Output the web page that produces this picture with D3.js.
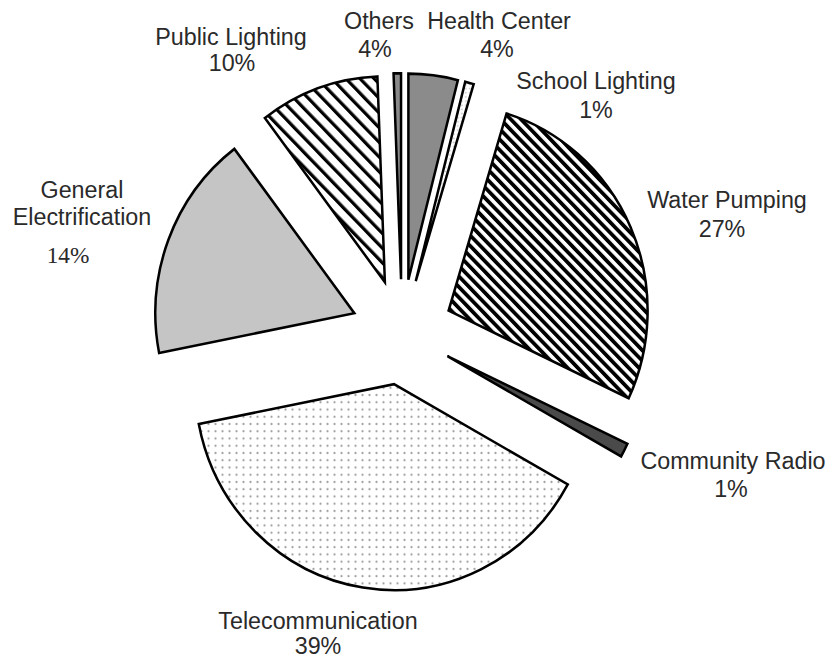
<!DOCTYPE html>
<html><head><meta charset="utf-8">
<script src="https://cdn.jsdelivr.net/npm/d3@7"></script>
<style>body{margin:0;background:#fff}</style>
</head><body>
<svg id="chart" width="827" height="658"></svg>
<script>
// ---- data ----
const categories = ["Health Center","School Lighting","Water Pumping","Community Radio","Telecommunication","General Electrification","Public Lighting","Others"];
// slice sizes as drawn in the picture (share of the circle, %)
const sliceShares = [4.0, 0.7, 27.3, 1.1, 38.8, 17.8, 9.7, 0.6];
// percentages as printed on the labels
const labelPercents = ["4%","1%","27%","1%","39%","14%","10%","4%"];

// ---- layout / style ----
const W = 827, H = 658;
const cx = 402, cy = 332, R = 199, explode = 51, yStretch = 1.035;
const fills = {
  "Health Center": "#8b8b8b",
  "School Lighting": "url(#pSL)",
  "Water Pumping": "url(#pWP)",
  "Community Radio": "#4a4a4a",
  "Telecommunication": "url(#pTel)",
  "General Electrification": "#c5c5c5",
  "Public Lighting": "url(#pPL)",
  "Others": "#8a8a8a"
};
const labelLayout = {
  "Health Center": {x:499, ys:[29], px:497, py:57},
  "School Lighting": {x:596, ys:[89], px:596, py:118},
  "Water Pumping": {x:727, ys:[208], px:722, py:237},
  "Community Radio": {x:733, ys:[469], px:731, py:497},
  "Telecommunication": {x:318, ys:[629], px:318, py:654},
  "General Electrification": {x:82, ys:[198,225], lines:["General","Electrification"], px:68, py:263, serif:true},
  "Public Lighting": {x:231, ys:[45], px:232, py:71},
  "Others": {x:379, ys:[29], px:375, py:57}
};

const svg = d3.select("#chart");
const defs = svg.append("defs");

// dense diagonal stripes (water pumping)
const pWP = defs.append("pattern").attr("id","pWP").attr("patternUnits","userSpaceOnUse")
  .attr("width",7.2).attr("height",7.2).attr("patternTransform","rotate(-45)");
pWP.append("rect").attr("width",7.2).attr("height",7.2).attr("fill","#fff");
pWP.append("rect").attr("width",3.7).attr("height",7.2).attr("fill","#000");

// wide diagonal stripes (public lighting)
const pPL = defs.append("pattern").attr("id","pPL").attr("patternUnits","userSpaceOnUse")
  .attr("width",10).attr("height",10).attr("patternTransform","rotate(-45)");
pPL.append("rect").attr("width",10).attr("height",10).attr("fill","#fff");
pPL.append("rect").attr("width",3.2).attr("height",10).attr("fill","#000");

// dotted (telecommunication)
const pTel = defs.append("pattern").attr("id","pTel").attr("patternUnits","userSpaceOnUse")
  .attr("width",7).attr("height",7);
pTel.append("rect").attr("width",7).attr("height",7).attr("fill","#fff");
pTel.append("circle").attr("cx",3.5).attr("cy",3.5).attr("r",1.1).attr("fill","#a0a0a0");

// faint dots (school lighting)
const pSL = defs.append("pattern").attr("id","pSL").attr("patternUnits","userSpaceOnUse")
  .attr("width",4).attr("height",4);
pSL.append("rect").attr("width",4).attr("height",4).attr("fill","#fff");
pSL.append("circle").attr("cx",2).attr("cy",2).attr("r",0.8).attr("fill","#bbb");

const data = categories.map((c,i)=>({cat:c, value:sliceShares[i], label:labelPercents[i]}));
const pie = d3.pie().sort(null).value(d=>d.value).startAngle(0).endAngle(2*Math.PI);
const arc = d3.arc().innerRadius(0).outerRadius(R);

const g = svg.append("g").attr("transform",`translate(${cx},${cy}) scale(1,${yStretch})`);
g.selectAll("path.slice").data(pie(data)).enter().append("path")
  .attr("class","slice")
  .attr("transform", d=>{
    const m = (d.startAngle+d.endAngle)/2;
    return `translate(${explode*Math.sin(m)},${-explode*Math.cos(m)})`;
  })
  .attr("d", arc)
  .attr("fill", d=>fills[d.data.cat])
  .attr("stroke","#000")
  .attr("stroke-width",2.5)
  .attr("stroke-linejoin","miter");

// labels
const lab = svg.append("g").attr("fill","#2a2a2a")
  .attr("font-family","'Liberation Sans', Arial, sans-serif").attr("font-size",23.3)
  .attr("text-anchor","middle");
data.forEach(d=>{
  const L = labelLayout[d.cat];
  const lines = L.lines || [d.cat];
  lines.forEach((t,i)=>{
    lab.append("text").attr("x",L.x).attr("y",L.ys[i]).text(t);
  });
  lab.append("text").attr("x",L.px).attr("y",L.py)
    .attr("font-family", L.serif ? "'Liberation Serif', 'Times New Roman', serif" : null)
    .text(d.label);
});
</script>
</body></html>
